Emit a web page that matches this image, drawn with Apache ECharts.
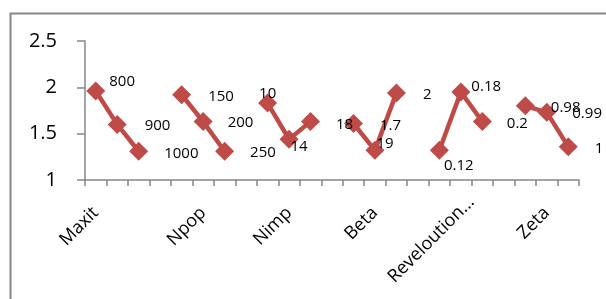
<!DOCTYPE html>
<html>
<head>
<meta charset="utf-8">
<script src="https://cdn.jsdelivr.net/npm/echarts@6/dist/echarts.min.js"></script>
<style>html,body{margin:0;padding:0;background:#fff;}#c{width:606px;height:299px;}</style>
</head>
<body>
<div id="c"></div>
<script>
// ---- data ----
var groupNames = ['Maxit', 'Npop', 'Nimp', 'Beta', 'Reveloution...', 'Zeta'];
var maxitValues = [1.96, 1.60, 1.31];
var npopValues = [1.92, 1.63, 1.31];
var nimpValues = [1.83, 1.44, 1.63];
var betaValues = [1.61, 1.32, 1.94];
var revValues = [1.32, 1.95, 1.63];
var zetaValues = [1.80, 1.73, 1.36];
var maxitLabels = ['800', '900', '1000'];
var npopLabels = ['150', '200', '250'];
var nimpLabels = ['10', '14', '18'];
var betaLabels = ['1.7', '19', '2'];
var revLabels = ['0.12', '0.18', '0.2'];
var zetaLabels = ['0.98', '0.99', '1'];
var yTicks = [1, 1.5, 2, 2.5];
// category slot (within 23 slots) where each group name is printed
var groupLabelSlots = [0, 5, 9, 13, 17, 21];

// ---- style: label nudges (px) per point, in point order ----
var labelNudge = [
  [-1, -9], [13, 1], [11, 2],
  [12, 2], [10, 1], [11, 1],
  [-23, -9], [-13, 8], [11, 3],
  [12, 2], [-13, -7], [12, 2],
  [-10, 15], [-4, -5], [10, 2],
  [11, 2], [11, 1], [12, 2]
];
// extra padding (style) for the group-name labels
var namePadding = [[0, 0, 0, 0], [0, 0, 0, 0], [0, 0, 0, 0], [0, 0, 0, 0], [0, -15, 0, 0], [0, 0, 0, 0]];

var groups = [maxitValues, npopValues, nimpValues, betaValues, revValues, zetaValues];
var groupTexts = [maxitLabels, npopLabels, nimpLabels, betaLabels, revLabels, zetaLabels];

var categories = [];
var seriesData = [];
var k = 0;
groups.forEach(function (g, gi) {
  g.forEach(function (v, i) {
    categories.push('');
    seriesData.push({
      value: v,
      label: { formatter: groupTexts[gi][i], offset: labelNudge[k] }
    });
    k++;
  });
  if (gi < groups.length - 1) {
    categories.push('');
    seriesData.push(null);
  }
});
groupLabelSlots.forEach(function (s, i) {
  categories[s] = { value: groupNames[i], textStyle: { padding: namePadding[i] } };
});

var FONT = 'Open Sans';
var AXIS = '#868686';
var chart = echarts.init(document.getElementById('c'), null, { renderer: 'canvas' });
chart.setOption({
  animation: false,
  textStyle: { fontFamily: FONT },
  graphic: [{
    type: 'rect', left: 8, top: 11, shape: { width: 640, height: 320 },
    style: { fill: 'none', stroke: AXIS, lineWidth: 2 }, z: -1
  }],
  grid: { left: 85, right: 27, top: 41, bottom: 119, containLabel: false },
  xAxis: {
    type: 'category',
    data: categories,
    boundaryGap: true,
    axisLine: { lineStyle: { color: AXIS, width: 1.5 } },
    axisTick: { show: true, interval: 0, alignWithLabel: false, length: 6, lineStyle: { color: AXIS, width: 1.5 } },
    axisLabel: { interval: 0, rotate: 45, margin: 30,
      color: '#000', fontSize: 18, fontFamily: FONT }
  },
  yAxis: {
    type: 'value',
    min: yTicks[0], max: yTicks[yTicks.length - 1], interval: 0.5,
    axisLine: { show: true, lineStyle: { color: AXIS, width: 1.5 } },
    axisTick: { show: true, inside: false, length: 8, lineStyle: { color: AXIS, width: 1.5 } },
    splitLine: { show: false },
    axisLabel: { margin: 28, color: '#000', fontSize: 20, fontFamily: FONT,
      formatter: function (v) { return String(v); } }
  },
  series: [{
    type: 'line',
    data: seriesData,
    connectNulls: false,
    symbol: 'diamond',
    symbolSize: 19,
    lineStyle: { color: '#be4b48', width: 4.5 },
    itemStyle: { color: '#be4b48' },
    label: { show: true, position: 'right', distance: 5, color: '#000', fontSize: 15, fontFamily: FONT }
  }]
});
</script>
</body>
</html>
